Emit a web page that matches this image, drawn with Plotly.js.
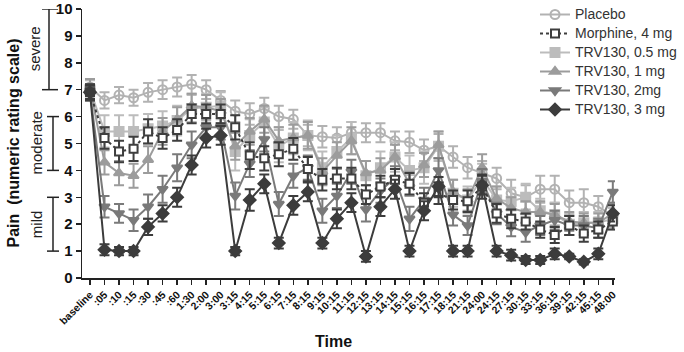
<!DOCTYPE html>
<html>
<head>
<meta charset="utf-8">
<script src="https://cdn.plot.ly/plotly-3.0.1.min.js"></script>
<style>html,body{margin:0;padding:0;background:#fff;}#chart{width:684px;height:352px;}</style>
</head>
<body>
<div id="chart"></div>
<script>
const timepoints = ["baseline",":05",":10",":15",":30",":45",":60","1:30","2:00","3:00","3:15","4:15","5:15","6:15","7:15","8:15","9:15","10:15","11:15","12:15","13:15","14:15","15:15","16:15","17:15","18:15","21:15","24:00","24:15","27:15","30:15","33:15","36:15","39:15","42:15","45:15","48:00"];

const placebo    = [7.1,6.6,6.8,6.7,6.9,7.0,7.1,7.2,7.0,6.6,6.2,6.1,6.3,6.0,5.9,5.3,5.25,5.2,5.4,5.4,5.4,5.1,5.05,4.75,4.9,4.5,4.1,3.9,3.7,3.15,3.0,3.3,3.3,2.8,2.8,2.65,2.3];
const placeboErr = [0.3,0.3,0.3,0.3,0.35,0.35,0.35,0.35,0.35,0.35,0.4,0.4,0.4,0.4,0.35,0.4,0.4,0.4,0.4,0.35,0.35,0.35,0.4,0.4,0.45,0.4,0.4,0.45,0.4,0.5,0.45,0.5,0.5,0.45,0.5,0.4,0.4];

const morphine    = [6.9,5.2,4.7,4.8,5.45,5.2,5.5,6.1,6.1,6.1,5.6,4.55,4.45,4.6,4.8,4.05,3.65,3.7,3.7,3.1,3.4,3.65,3.5,2.8,3.15,2.9,2.85,3.4,2.4,2.2,2.1,1.8,1.6,1.95,1.65,1.8,2.1];
const morphineErr = [0.3,0.4,0.4,0.45,0.45,0.4,0.4,0.35,0.35,0.35,0.45,0.5,0.45,0.45,0.4,0.45,0.4,0.4,0.4,0.35,0.4,0.4,0.4,0.35,0.4,0.35,0.4,0.45,0.35,0.35,0.3,0.3,0.3,0.35,0.3,0.3,0.3];

const trv05    = [7.0,5.45,5.45,5.45,5.55,5.65,5.85,6.3,6.35,6.4,4.7,5.3,5.8,4.9,5.2,5.3,4.1,4.7,5.2,3.8,4.1,4.5,4.0,4.1,4.9,3.15,2.9,3.7,2.9,2.85,3.0,2.5,2.35,2.0,2.05,2.05,2.2];
const trv05Err = [0.35,0.6,0.6,0.6,0.55,0.55,0.55,0.5,0.5,0.5,0.7,0.6,0.55,0.6,0.6,0.55,0.6,0.6,0.6,0.55,0.6,0.55,0.55,0.6,0.55,0.5,0.5,0.55,0.5,0.5,0.5,0.45,0.45,0.4,0.4,0.4,0.4];

const trv1    = [7.1,4.3,3.9,3.8,4.4,5.45,5.9,6.4,6.35,6.2,4.9,5.45,5.9,5.1,5.2,5.3,3.95,4.55,5.1,3.9,4.0,4.5,3.5,4.2,4.95,3.2,2.9,4.1,2.95,2.6,2.45,2.45,2.35,2.1,2.05,2.05,2.4];
const trv1Err = [0.3,0.45,0.45,0.45,0.5,0.5,0.45,0.45,0.45,0.45,0.5,0.5,0.5,0.5,0.5,0.5,0.5,0.5,0.5,0.45,0.45,0.45,0.45,0.45,0.5,0.45,0.4,0.5,0.45,0.4,0.4,0.4,0.4,0.35,0.35,0.35,0.4];

const trv2    = [6.9,2.65,2.4,2.15,2.65,3.3,4.1,4.95,5.6,5.6,3.05,4.25,5.15,2.75,3.8,4.1,2.5,3.05,3.95,2.55,3.25,3.7,2.2,2.9,4.0,2.35,1.95,3.6,2.4,1.9,1.7,1.95,2.15,1.95,1.95,1.85,3.2];
const trv2Err = [0.3,0.4,0.35,0.4,0.45,0.5,0.5,0.5,0.45,0.45,0.5,0.5,0.45,0.45,0.45,0.45,0.45,0.45,0.45,0.45,0.45,0.45,0.45,0.45,0.45,0.4,0.35,0.45,0.4,0.35,0.35,0.35,0.35,0.35,0.35,0.35,0.4];

const trv3    = [6.9,1.05,1.0,1.0,1.9,2.4,3.0,4.2,5.2,5.3,1.0,2.9,3.5,1.3,2.7,3.2,1.3,2.2,2.8,0.8,2.65,3.3,1.0,2.5,3.4,1.0,1.0,3.45,1.0,0.85,0.67,0.67,0.9,0.8,0.6,0.9,2.4];
const trv3Err = [0.25,0.2,0.15,0.15,0.3,0.3,0.35,0.35,0.35,0.35,0.15,0.4,0.35,0.2,0.35,0.35,0.2,0.35,0.35,0.2,0.35,0.35,0.2,0.35,0.35,0.2,0.2,0.35,0.2,0.2,0.15,0.15,0.2,0.1,0.1,0.2,0.3];

const seriesNames = ["Placebo","Morphine, 4 mg","TRV130, 0.5 mg","TRV130, 1 mg","TRV130, 2mg","TRV130, 3 mg"];

function mk(name, y, err, color, symbol, rank, dash, fill){
  return {
    type:'scatter', mode:'lines+markers',
    name:'<span style="font-size:14px">' + name + '</span>',
    x:timepoints, y:y,
    legendrank: rank,
    line:{color:color, width:2, dash:dash||'solid'},
    marker:{symbol:symbol, size:9, color:fill||color, line:{color:color, width:2}},
    error_y:{type:'data', array:err, visible:true, color:color, thickness:2, width:5},
    cliponaxis:false
  };
}

const data = [
  mk(seriesNames[0], placebo, placeboErr, '#b2b2b2', 'circle-open', 1),
  mk(seriesNames[2], trv05, trv05Err, '#bcbcbc', 'square', 3),
  mk(seriesNames[3], trv1, trv1Err, '#9c9c9c', 'triangle-up', 4),
  mk(seriesNames[4], trv2, trv2Err, '#7a7a7a', 'triangle-down', 5),
  mk(seriesNames[1], morphine, morphineErr, '#3e3e3e', 'square', 2, '3px,3px', '#ffffff'),
  mk(seriesNames[5], trv3, trv3Err, '#3c3c3c', 'diamond', 6)
];
data[4].marker.size = 8;

// pixel helpers: plot area x 82..615, paper height 278 (top margin 0, plot top at 8px)
function px(p){ return (p-82)/533; }
function py(p){ return (278-p)/278; }

const shapes = [];
function bracket(xv, xl, xr, y0, y1){
  shapes.push({type:'line', xref:'paper', yref:'y', x0:px(xv), x1:px(xv), y0:y0, y1:y1, line:{color:'#222', width:1.5}});
  shapes.push({type:'line', xref:'paper', yref:'y', x0:px(xl), x1:px(xr), y0:y0, y1:y0, line:{color:'#222', width:1.5}});
  shapes.push({type:'line', xref:'paper', yref:'y', x0:px(xl), x1:px(xr), y0:y1, y1:y1, line:{color:'#222', width:1.5}});
}
bracket(49, 42, 58, 7, 10);
bracket(53, 47, 59, 4, 6);
bracket(53, 47, 59, 1, 3);

const font = "Liberation Sans, Arial, sans-serif";
const annotations = [
  {text:'<b>Pain  (numeric rating scale)</b>', xref:'paper', yref:'y', x:px(13), y:5, textangle:-90, showarrow:false, font:{family:font, size:16, color:'#111'}, xanchor:'center', yanchor:'middle'},
  {text:'severe', xref:'paper', yref:'y', x:px(34), y:8.5, textangle:-90, showarrow:false, font:{family:font, size:15, color:'#222'}, xanchor:'center', yanchor:'middle'},
  {text:'moderate', xref:'paper', yref:'y', x:px(36), y:5, textangle:-90, showarrow:false, font:{family:font, size:15, color:'#222'}, xanchor:'center', yanchor:'middle'},
  {text:'mild', xref:'paper', yref:'y', x:px(36), y:2, textangle:-90, showarrow:false, font:{family:font, size:15, color:'#222'}, xanchor:'center', yanchor:'middle'},
  {text:'<b>Time</b>', xref:'paper', yref:'paper', x:px(333), y:py(342), showarrow:false, font:{family:font, size:16, color:'#111'}, xanchor:'center', yanchor:'middle'}
];

const layout = {
  width:684, height:352,
  margin:{l:82, r:69, t:0, b:74, pad:0},
  paper_bgcolor:'#fff', plot_bgcolor:'#fff',
  showlegend:true,
  legend:{x:px(535), y:py(-1), xanchor:'left', yanchor:'top', font:{family:font, size:11, color:'#333'}, bgcolor:'rgba(0,0,0,0)', tracegroupgap:0, itemwidth:30},
  xaxis:{type:'category', categoryorder:'array', categoryarray:timepoints, range:[-0.55,36.15], showgrid:false, zeroline:false, showline:true, linecolor:'#222', linewidth:1.5,
    ticks:'outside', ticklen:5, tickwidth:1.5, tickcolor:'#222', tickangle:-45, tickfont:{family:font, size:10.5, color:'#111', weight:'bold'}, automargin:false},
  yaxis:{domain:[0, py(8)], range:[0,10], dtick:1, showgrid:false, zeroline:false, showline:true, linecolor:'#222', linewidth:1.5,
    ticks:'outside', ticklen:5, tickwidth:1.5, tickcolor:'#222', tickfont:{family:font, size:15, color:'#111', weight:'bold'}, automargin:false},
  shapes:shapes, annotations:annotations
};

Plotly.newPlot('chart', data, layout, {staticPlot:true});
</script>
</body>
</html>
